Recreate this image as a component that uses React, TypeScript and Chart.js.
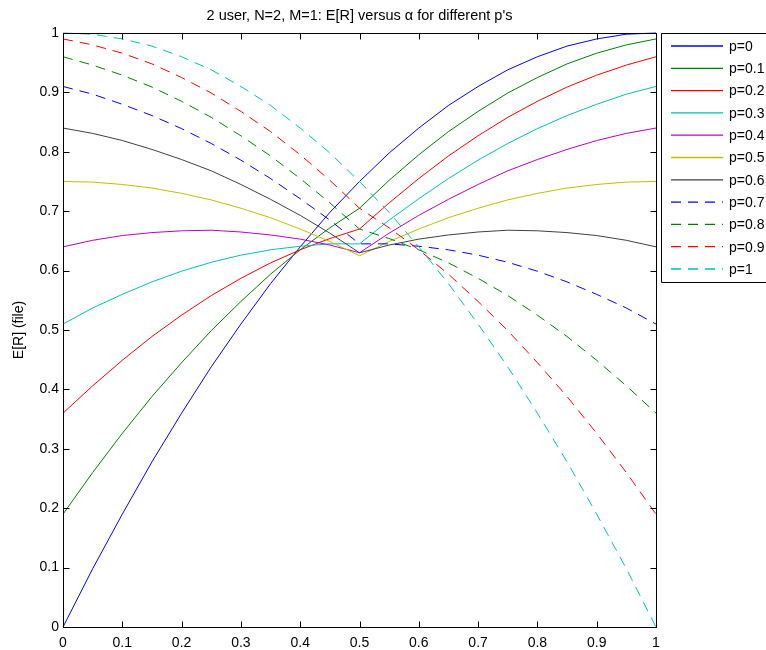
import React, { useEffect, useRef } from "react";
import { Chart, registerables } from "chart.js";

Chart.register(...registerables);

const FONT = "'Liberation Sans', Arial, Helvetica, sans-serif";

const alphaValues = [0, 0.05, 0.1, 0.15, 0.2, 0.25, 0.3, 0.35, 0.4, 0.45, 0.5, 0.55, 0.6, 0.65, 0.7, 0.75, 0.8, 0.85, 0.9, 0.95, 1];

const seriesLabels = ["p=0", "p=0.1", "p=0.2", "p=0.3", "p=0.4", "p=0.5", "p=0.6", "p=0.7", "p=0.8", "p=0.9", "p=1"];

const p00 = [0, 0.098, 0.19, 0.278, 0.36, 0.438, 0.51, 0.578, 0.64, 0.698, 0.75, 0.798, 0.84, 0.878, 0.91, 0.938, 0.96, 0.978, 0.99, 0.998, 1];
const p01 = [0.19, 0.26, 0.326, 0.388, 0.445, 0.499, 0.548, 0.594, 0.635, 0.672, 0.705, 0.752, 0.795, 0.834, 0.868, 0.899, 0.925, 0.948, 0.966, 0.98, 0.99];
const p02 = [0.36, 0.406, 0.449, 0.489, 0.525, 0.558, 0.587, 0.613, 0.635, 0.654, 0.67, 0.714, 0.755, 0.793, 0.827, 0.858, 0.885, 0.909, 0.929, 0.946, 0.96];
const p03 = [0.51, 0.537, 0.56, 0.581, 0.599, 0.614, 0.626, 0.635, 0.641, 0.645, 0.645, 0.685, 0.721, 0.755, 0.786, 0.814, 0.839, 0.861, 0.88, 0.897, 0.91];
const p04 = [0.64, 0.651, 0.659, 0.664, 0.667, 0.668, 0.665, 0.66, 0.653, 0.643, 0.63, 0.663, 0.693, 0.72, 0.745, 0.768, 0.787, 0.804, 0.819, 0.831, 0.84];
const p05 = [0.75, 0.749, 0.745, 0.739, 0.73, 0.719, 0.705, 0.689, 0.67, 0.649, 0.625, 0.649, 0.67, 0.689, 0.705, 0.719, 0.73, 0.739, 0.745, 0.749, 0.75];
const p06 = [0.84, 0.831, 0.819, 0.804, 0.787, 0.768, 0.745, 0.72, 0.693, 0.663, 0.63, 0.643, 0.653, 0.66, 0.665, 0.668, 0.667, 0.664, 0.659, 0.651, 0.64];
const p07 = [0.91, 0.897, 0.88, 0.861, 0.839, 0.814, 0.786, 0.755, 0.721, 0.685, 0.645, 0.645, 0.641, 0.635, 0.626, 0.614, 0.599, 0.581, 0.56, 0.537, 0.51];
const p08 = [0.96, 0.946, 0.929, 0.909, 0.885, 0.858, 0.827, 0.793, 0.755, 0.714, 0.67, 0.654, 0.635, 0.613, 0.587, 0.558, 0.525, 0.489, 0.449, 0.406, 0.36];
const p09 = [0.99, 0.98, 0.966, 0.948, 0.925, 0.899, 0.868, 0.834, 0.795, 0.752, 0.705, 0.672, 0.635, 0.594, 0.548, 0.499, 0.445, 0.388, 0.326, 0.26, 0.19];
const p10 = [1, 0.998, 0.99, 0.978, 0.96, 0.938, 0.91, 0.878, 0.84, 0.798, 0.75, 0.698, 0.64, 0.578, 0.51, 0.438, 0.36, 0.278, 0.19, 0.098, 0];

const seriesValues = [p00, p01, p02, p03, p04, p05, p06, p07, p08, p09, p10];

const xTicks = [0, 0.1, 0.2, 0.3, 0.4, 0.5, 0.6, 0.7, 0.8, 0.9, 1];
const yTicks = [0, 0.1, 0.2, 0.3, 0.4, 0.5, 0.6, 0.7, 0.8, 0.9, 1];

const colors = ["#0000ff", "#008000", "#ff0000", "#00bfbf", "#bf00bf", "#bfbf00", "#404040", "#0000ff", "#008000", "#ff0000", "#00bfbf"];
const DASH = [10, 7];

const TITLE = "2 user, N=2, M=1: E[R] versus \u03B1 for different p's";
const Y_LABEL = "E[R] (file)";

const matlabPlugin = {
  id: "matlabDecor",
  afterDraw(chart: any) {
    const { ctx, chartArea: a, scales } = chart;
    ctx.save();
    ctx.strokeStyle = "#000";
    ctx.lineWidth = 1;
    ctx.setLineDash([]);
    const L = Math.round(a.left) + 0.5;
    const R = Math.round(a.right) + 0.5;
    const T = Math.round(a.top) + 0.5;
    const B = Math.round(a.bottom) + 0.5;
    ctx.beginPath();
    ctx.rect(L, T, R - L, B - T);
    ctx.stroke();
    const tl = 6;
    ctx.beginPath();
    for (const v of xTicks) {
      const px = Math.round(scales.x.getPixelForValue(v)) + 0.5;
      ctx.moveTo(px, B);
      ctx.lineTo(px, B - tl);
      ctx.moveTo(px, T);
      ctx.lineTo(px, T + tl);
    }
    for (const v of yTicks) {
      const py = Math.round(scales.y.getPixelForValue(v)) + 0.5;
      ctx.moveTo(L, py);
      ctx.lineTo(L + tl, py);
      ctx.moveTo(R, py);
      ctx.lineTo(R - tl, py);
    }
    ctx.stroke();

    ctx.fillStyle = "#000";
    ctx.font = `14.5px ${FONT}`;
    ctx.textAlign = "center";
    ctx.textBaseline = "middle";
    ctx.fillText(TITLE, (a.left + a.right) / 2, 16);

    ctx.save();
    ctx.font = `14px ${FONT}`;
    ctx.translate(19, (a.top + a.bottom) / 2);
    ctx.rotate(-Math.PI / 2);
    ctx.fillText(Y_LABEL, 0, 0);
    ctx.restore();

    const lx = 661.5;
    const ly = 33.5;
    const rowH = 22.3;
    const n = chart.data.datasets.length;
    ctx.fillStyle = "#fff";
    ctx.fillRect(lx, ly, 200, n * rowH + 5);
    ctx.strokeStyle = "#000";
    ctx.lineWidth = 1;
    ctx.beginPath();
    ctx.rect(lx, ly, 200, Math.round(n * rowH + 4));
    ctx.stroke();
    ctx.font = `14px ${FONT}`;
    ctx.textAlign = "left";
    ctx.textBaseline = "middle";
    for (let i = 0; i < n; i++) {
      const y = 46 + i * rowH;
      ctx.strokeStyle = colors[i];
      ctx.lineWidth = 1.3;
      ctx.setLineDash(i >= 7 ? DASH : []);
      ctx.beginPath();
      ctx.moveTo(671, y);
      ctx.lineTo(723, y);
      ctx.stroke();
      ctx.setLineDash([]);
      ctx.fillStyle = "#000";
      ctx.fillText(seriesLabels[i], 729, y + 1);
    }
    ctx.restore();
  },
};

export default function App() {
  const ref = useRef<HTMLCanvasElement | null>(null);

  useEffect(() => {
    if (!ref.current) return;
    const datasets = seriesValues.map((vals, i) => ({
      label: seriesLabels[i],
      data: vals.map((v, j) => ({ x: alphaValues[j], y: v })),
      borderColor: colors[i],
      backgroundColor: colors[i],
      borderWidth: 1,
      borderDash: i >= 7 ? DASH : [],
      pointRadius: 0,
      tension: 0,
      fill: false,
      clip: false as any,
      order: 10 - i,
    }));
    const fmt = (v: any) => String(Number(v).toFixed(1)).replace(/\.0$/, "");
    const chart = new Chart(ref.current, {
      type: "line",
      data: { datasets },
      options: {
        responsive: false,
        animation: false,
        events: [],
        layout: { padding: { left: 0, right: 110, top: 33, bottom: 0 } },
        plugins: {
          legend: { display: false },
          title: { display: false },
          tooltip: { enabled: false },
        },
        scales: {
          x: {
            type: "linear",
            min: 0,
            max: 1,
            afterFit: (s: any) => {
              s.height = 23;
            },
            afterBuildTicks: (s: any) => {
              s.ticks = xTicks.map((v) => ({ value: v }));
            },
            grid: { display: false, drawTicks: false },
            border: { display: false },
            ticks: {
              padding: 8,
              color: "#000",
              font: { family: FONT, size: 14 },
              maxRotation: 0,
              autoSkip: false,
              callback: fmt,
            },
          },
          y: {
            type: "linear",
            min: 0,
            max: 1,
            afterFit: (s: any) => {
              s.width = 63;
            },
            afterBuildTicks: (s: any) => {
              s.ticks = yTicks.map((v) => ({ value: v }));
            },
            grid: { display: false, drawTicks: false },
            border: { display: false },
            ticks: {
              padding: 4,
              color: "#000",
              font: { family: FONT, size: 14 },
              autoSkip: false,
              callback: fmt,
            },
          },
        },
      },
      plugins: [matlabPlugin],
    });
    return () => chart.destroy();
  }, []);

  return (
    <div style={{ position: "absolute", left: 0, top: 0, width: 766, height: 650, background: "#fff" }}>
      <canvas ref={ref} width={766} height={650} style={{ display: "block" }} />
    </div>
  );
}
